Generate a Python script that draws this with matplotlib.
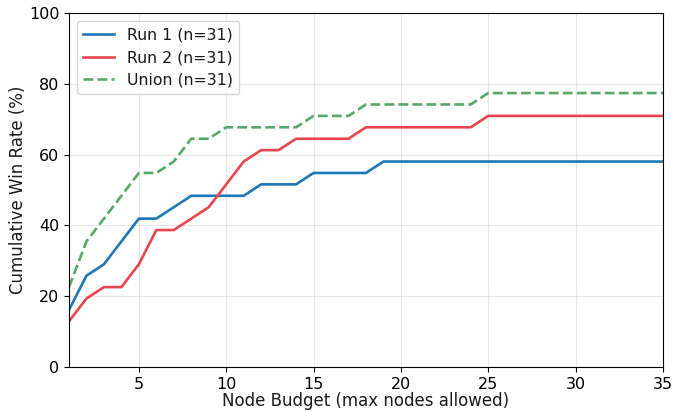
import matplotlib

matplotlib.use("Agg")
import matplotlib.pyplot as plt
import numpy as np

N = 31
budgets = np.arange(1, 36)

# cumulative number of solved instances (out of N) per node budget
run1_solved = [5, 8, 9, 11, 13, 13, 14, 15, 15, 15, 15, 16, 16, 16, 17, 17, 17, 17,
               18, 18, 18, 18, 18, 18, 18, 18, 18, 18, 18, 18, 18, 18, 18, 18, 18]
run2_solved = [4, 6, 7, 7, 9, 12, 12, 13, 14, 16, 18, 19, 19, 20, 20, 20, 20, 21,
               21, 21, 21, 21, 21, 21, 22, 22, 22, 22, 22, 22, 22, 22, 22, 22, 22]
union_solved = [7, 11, 13, 15, 17, 17, 18, 20, 20, 21, 21, 21, 21, 21, 22, 22, 22, 23,
                23, 23, 23, 23, 23, 23, 24, 24, 24, 24, 24, 24, 24, 24, 24, 24, 24]

series = [
    ("Run 1", run1_solved, "#1f77b4", "-"),
    ("Run 2", run2_solved, "#e8464f", "-"),
    ("Union", union_solved, "#55a868", "--"),
]

plt.rcParams["text.color"] = "#1a1a1a"
plt.rcParams["axes.labelcolor"] = "#1a1a1a"

fig = plt.figure(figsize=(6.73, 4.11), dpi=100)
ax = fig.add_axes([0.1025, 0.107, 0.8825, 0.861])

for name, solved, color, ls in series:
    rate = np.array(solved) / N * 100
    ax.plot(budgets, rate, color=color, ls=ls, lw=1.9, label=f"{name} (n={N})")

ax.set_xlim(1, 35)
ax.set_ylim(0, 100)
ax.set_xticks([5, 10, 15, 20, 25, 30, 35])
ax.set_yticks([0, 20, 40, 60, 80, 100])
ax.tick_params(labelsize=11.5)
ax.grid(alpha=0.3)
ax.set_xlabel("Node Budget (max nodes allowed)", fontsize=12, labelpad=0)
ax.set_ylabel("Cumulative Win Rate (%)", fontsize=12, labelpad=1)
ax.legend(loc="upper left", fontsize=11.3)

fig.savefig("out.png", dpi=100)
